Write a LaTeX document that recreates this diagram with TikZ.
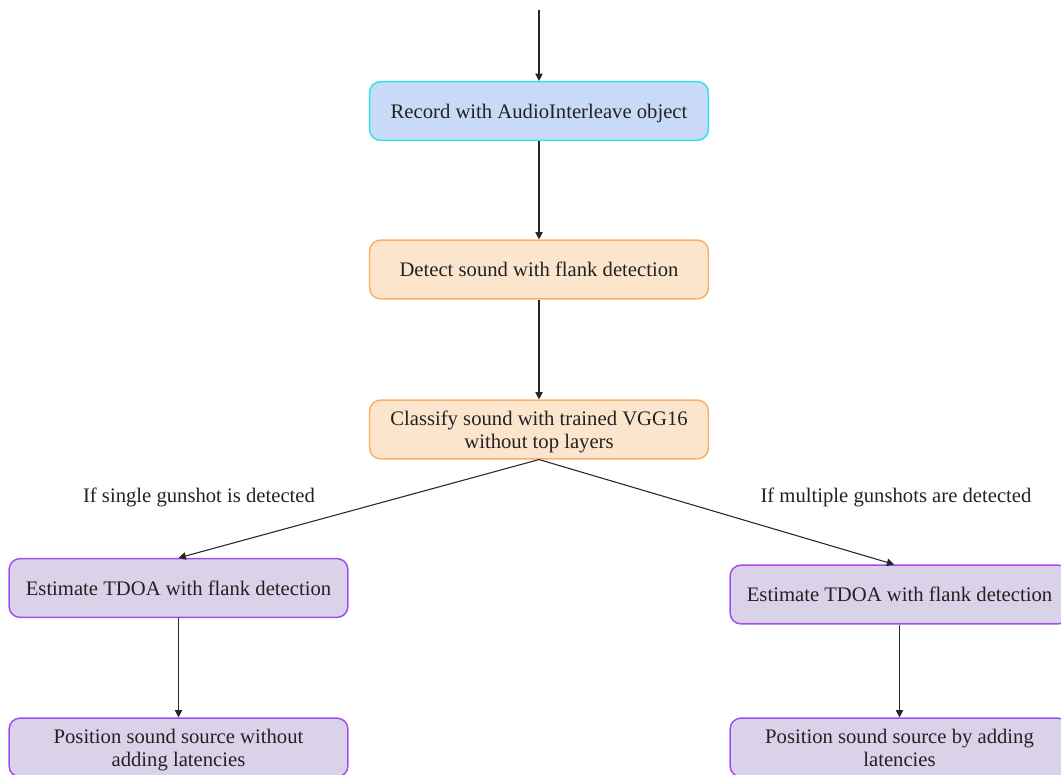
\documentclass[tikz,border=0pt]{standalone}
\usepackage{fontspec}
\setmainfont{Liberation Serif}
\usetikzlibrary{arrows.meta}
\definecolor{txt}{HTML}{222222}
\definecolor{bluefill}{HTML}{C9DAF8}
\definecolor{blueline}{HTML}{33E0F0}
\definecolor{orangefill}{HTML}{FCE5CD}
\definecolor{orangeline}{HTML}{F6B26B}
\definecolor{purplefill}{HTML}{D9D2E9}
\definecolor{purpleline}{HTML}{A24BF5}
\tikzset{
  box/.style={rectangle, rounded corners=8pt, line width=1.1pt,
    minimum width=254pt, minimum height=44pt, align=center,
    text=txt, font=\fontsize{15.5}{17.5}\selectfont, inner sep=2pt,
    text depth=0pt},
  bluebox/.style={box, draw=blueline, fill=bluefill},
  orangebox/.style={box, draw=orangeline, fill=orangefill},
  purplebox/.style={box, draw=purpleline, fill=purplefill},
  flow/.style={draw=black!85, line width=0.8pt, -{Triangle[length=5.5pt,width=5.5pt]}},
  cond/.style={text=txt, font=\fontsize{15.5}{18}\selectfont}
}
\begin{document}
\begin{tikzpicture}[x=0.75pt,y=-0.75pt]
\useasboundingbox (0,0) rectangle (1061,775);
\clip (0,0) rectangle (1061,775);

\coordinate (start) at (539,10);
\node[bluebox]   (rec)   at (539,111)   {Record with AudioInterleave object};
\node[orangebox] (det)   at (539,269.5) {Detect sound with flank detection};
\node[orangebox] (cls)   at (539,429.5) {Classify sound with trained VGG16\\without top layers};
\node[purplebox] (tdoaA) at (178.5,588) {Estimate TDOA with flank detection};
\node[purplebox] (tdoaB) at (899.5,594.5) {Estimate TDOA with flank detection};
\node[purplebox] (posA)  at (178.5,747.5) {Position sound source without\\adding latencies};
\node[purplebox] (posB)  at (899.5,747.5) {Position sound source by adding\\latencies};

\node[cond] (single) at (199,497) {If single gunshot is detected};
\node[cond] (multi)  at (896,497) {If multiple gunshots are detected};

\draw[flow] (start) -- (rec.north);
\draw[flow] (rec) -- (det);
\draw[flow] (det) -- (cls);
\draw[flow] (cls.south) -- (tdoaA.north);
\draw[flow] (cls.south) -- ([xshift=-4pt]tdoaB.north);
\draw[flow] (tdoaA) -- (posA);
\draw[flow] (tdoaB) -- (posB);
\end{tikzpicture}
\end{document}
